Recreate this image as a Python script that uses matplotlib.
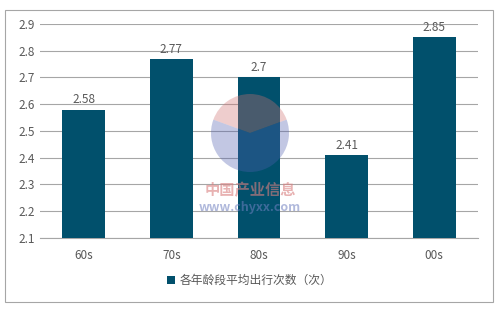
import matplotlib.pyplot as plt
from matplotlib.patches import Rectangle, Wedge

plt.rcParams['font.family'] = ['Noto Sans CJK SC', 'DejaVu Sans']

categories = ['60s', '70s', '80s', '90s', '00s']
values = [2.58, 2.77, 2.7, 2.41, 2.85]
yticks = [2.1, 2.2, 2.3, 2.4, 2.5, 2.6, 2.7, 2.8, 2.9]
series_name = '各年龄段平均出行次数（次）'

bar_color = '#01506c'
text_color = '#595959'

fig = plt.figure(figsize=(5.0, 3.11), dpi=100)
ax = fig.add_axes([0.08, 0.235, 0.876, 0.688])

x = range(len(categories))
ax.bar(x, values, width=0.49, color=bar_color, label=series_name, zorder=3)
for i, v in enumerate(values):
    ax.text(i, v + 0.012, '%g' % v, ha='center', va='bottom',
            fontsize=8.5, color=text_color, zorder=4)

ax.set_ylim(2.1, 2.9)
ax.set_xlim(-0.5, len(categories) - 0.5)
ax.set_yticks(yticks)
ax.set_yticklabels(['%.1f' % t for t in yticks])
ax.set_xticks(list(x))
ax.set_xticklabels(categories)
ax.tick_params(axis='both', length=0, labelsize=8.5, colors=text_color)
ax.tick_params(axis='x', pad=8)
ax.grid(axis='y', color='#a6a6a6', linewidth=0.8, zorder=0)
for s in ['top', 'right', 'left']:
    ax.spines[s].set_visible(False)
ax.spines['bottom'].set_color('#a6a6a6')

# watermark (logo + site name)
cx, cy, r = 250 / 500, 1 - 133 / 311, 39 / 311
aspect = 311 / 500
wm = fig.add_axes([cx - r * aspect, cy - r, 2 * r * aspect, 2 * r])
wm.set_xlim(-1, 1)
wm.set_ylim(-1, 1)
wm.axis('off')
wm.add_patch(Wedge((0, 0), 1, 20, 160, color='#d07070', alpha=0.35, lw=0))
wm.add_patch(Wedge((0, 0), 1, 160, 380, color='#5060b0', alpha=0.35, lw=0))
fig.text(0.5, 1 - 190 / 311, '中国产业信息', ha='center', va='center',
         fontsize=11, weight='bold', color='#d98080', alpha=0.6)
fig.text(0.5, 1 - 208 / 311, 'www.chyxx.com', ha='center', va='center',
         fontsize=9, color='#7080c0', alpha=0.55, weight='bold')

leg = fig.legend(loc='center', bbox_to_anchor=(0.5, 0.098), frameon=False,
                 fontsize=8.5, handlelength=0.7, handleheight=0.7,
                 handletextpad=0.4)
for t in leg.get_texts():
    t.set_color(text_color)

fig.patches.append(Rectangle((0.01, 0.03), 0.976, 0.937, transform=fig.transFigure,
                             fill=False, edgecolor='#a6a6a6', linewidth=0.8))

fig.savefig('out.png', dpi=100)
